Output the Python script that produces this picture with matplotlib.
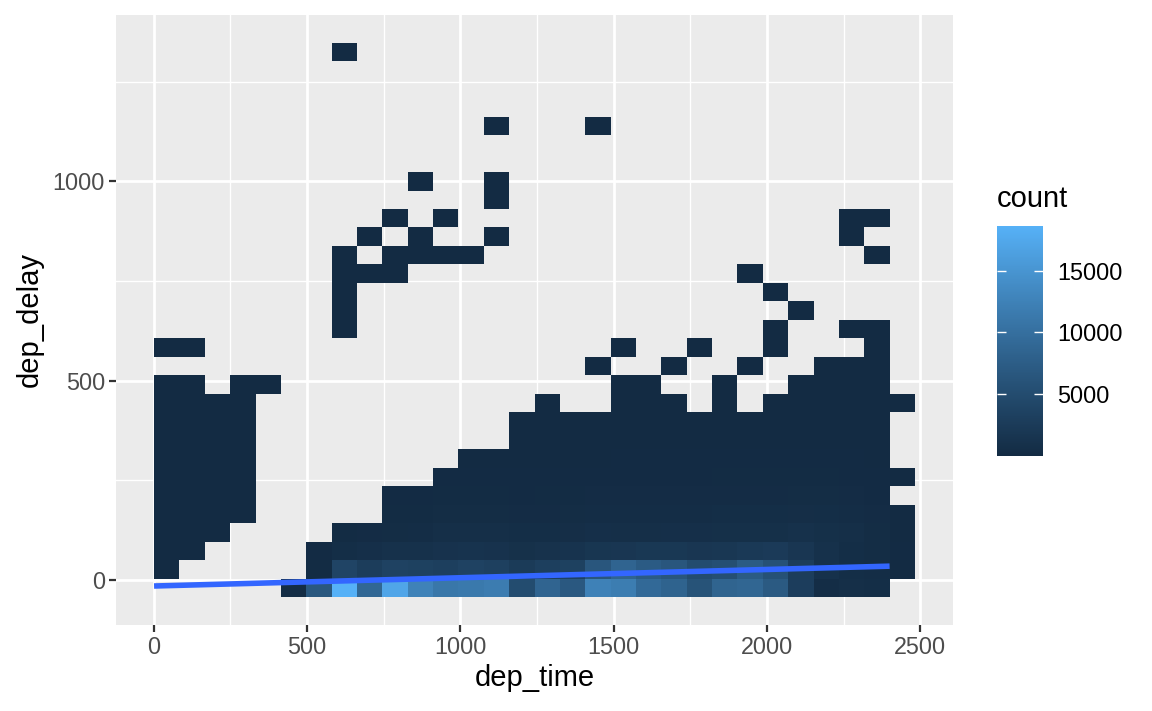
import numpy as np
import matplotlib
matplotlib.use("Agg")
import matplotlib.pyplot as plt
from matplotlib.colors import ListedColormap, Normalize

# ---------------- data ----------------
n_bins = 30
dep_time_range = (1, 2400)
dep_delay_range = (-43, 1301)

# counts of the five lowest dep_delay bins, one value per dep_time bin (0 = empty)
count_row0 = [0, 0, 0, 0, 0, 300, 6700, 18600, 8900, 17100, 12500, 11000, 11400, 11700, 5000,
              8500, 6800, 12400, 11800, 9200, 8300, 6000, 8400, 8700, 7000, 2900, 400, 600, 500, 0]
count_row1 = [40, 0, 0, 0, 0, 0, 150, 3900, 2800, 3600, 3400, 3100, 3600, 3200, 2500,
              3100, 3400, 6500, 8500, 7200, 6500, 5000, 5400, 7200, 5800, 2800, 1000, 500, 400, 60]
count_row2 = [35, 30, 0, 0, 0, 0, 100, 500, 700, 1000, 1000, 1200, 1300, 1200, 900,
              1100, 1300, 1700, 1800, 2000, 2000, 1800, 1900, 2200, 2400, 1800, 1000, 500, 300, 90]
count_row3 = [30, 25, 20, 0, 0, 0, 0, 200, 250, 300, 400, 600, 600, 600, 450,
              500, 550, 700, 650, 650, 700, 700, 750, 800, 800, 1000, 800, 600, 350, 60]
count_row4 = [25, 20, 18, 15, 0, 0, 0, 0, 0, 150, 200, 300, 320, 320, 250,
              280, 300, 380, 400, 400, 420, 420, 450, 450, 480, 550, 500, 380, 220, 30]

# remaining occupied bins (higher delays): dep_time bin, first dep_delay bin, counts upward
upper_col = [0, 0, 1, 1, 2, 3, 4, 7, 7, 8, 8, 9, 9, 9, 10, 10, 10, 11, 11, 11, 12, 12,
             13, 13, 13, 13, 14, 15, 16, 17, 17, 17, 18, 18, 19, 20, 20, 21, 21, 22, 23, 23, 23,
             24, 24, 24, 25, 25, 26, 27, 27, 27, 28, 28, 28, 29, 29]
upper_row = [5, 13, 5, 13, 5, 5, 11, 14, 29, 17, 19, 5, 17, 20, 5, 18, 22, 5, 18, 20, 5, 18,
             5, 19, 21, 25, 5, 5, 5, 5, 12, 25, 5, 13, 5, 5, 12, 5, 13, 5, 5, 12, 17,
             5, 13, 16, 5, 15, 5, 5, 14, 19, 5, 18, 20, 6, 10]
upper_counts = [
    [20, 16, 12, 10, 8, 6, 4], [2],
    [16, 12, 10, 8, 6, 4, 3], [1],
    [14, 10, 8, 6, 4, 2],
    [12, 9, 7, 5, 3, 2, 1],
    [1],
    [1, 1, 2, 1, 1], [1],
    [1], [1],
    [80], [1, 1], [1],
    [110], [1, 1], [1],
    [170, 90], [1], [1],
    [180, 100, 50], [1],
    [180, 100, 55], [1], [1, 1], [1],
    [140, 80, 45, 25, 12],
    [160, 90, 50, 28, 15, 6],
    [170, 95, 55, 30, 15],
    [220, 120, 70, 40, 20], [2], [1],
    [230, 130, 75, 45, 25, 12, 5], [1],
    [230, 130, 75, 45, 25, 12, 5],
    [240, 140, 80, 45, 25, 10], [2],
    [240, 140, 80, 45, 22], [1],
    [260, 150, 85, 50, 28, 14, 6],
    [260, 150, 85, 50, 25], [2], [1],
    [280, 160, 95, 55, 30, 12], [2, 1], [1],
    [320, 180, 100, 60, 35, 16, 7], [1],
    [300, 170, 100, 60, 35, 18, 8, 3],
    [220, 130, 75, 45, 25, 12, 6, 2], [1], [1, 1],
    [130, 80, 50, 30, 18, 10, 6, 3, 2, 1], [1], [1],
    [2], [1],
]

# fitted linear smooth (lm): dep_delay = intercept + slope * dep_time
smooth_intercept = -15.5
smooth_slope = 0.02076

x_ticks = [0, 500, 1000, 1500, 2000, 2500]
x_minor = [250, 750, 1250, 1750, 2250]
y_ticks = [0, 500, 1000]
y_minor = [250, 750, 1250]
legend_ticks = [5000, 10000, 15000]

# ---------------- grid ----------------
xw = (dep_time_range[1] - dep_time_range[0]) / (n_bins - 1)
yw = (dep_delay_range[1] - dep_delay_range[0]) / (n_bins - 1)
x_edges = dep_time_range[0] + xw * np.arange(n_bins + 1)
y_edges = dep_delay_range[0] + yw * np.arange(n_bins + 1)

counts = np.zeros((n_bins, n_bins))
for r, row in enumerate([count_row0, count_row1, count_row2, count_row3, count_row4]):
    counts[r, :] = row
for c, r0, vals in zip(upper_col, upper_row, upper_counts):
    for k, v in enumerate(vals):
        counts[r0 + k, c] = v
masked = np.ma.masked_where(counts == 0, counts)


# ---------------- colour scale (ggplot2 gradient in CIELAB) ----------------
def hex_to_rgb(h):
    return np.array([int(h[i:i + 2], 16) for i in (1, 3, 5)]) / 255.0


M = np.array([[0.4124564, 0.3575761, 0.1804375],
              [0.2126729, 0.7151522, 0.0721750],
              [0.0193339, 0.1191920, 0.9503041]])
WHITE = np.array([0.95047, 1.0, 1.08883])


def rgb_to_lab(rgb):
    lin = np.where(rgb <= 0.04045, rgb / 12.92, ((rgb + 0.055) / 1.055) ** 2.4)
    xyz = M @ lin / WHITE
    f = np.where(xyz > 0.008856, np.cbrt(xyz), 7.787 * xyz + 16 / 116)
    return np.array([116 * f[1] - 16, 500 * (f[0] - f[1]), 200 * (f[1] - f[2])])


def lab_to_rgb(lab):
    L, a, b = lab
    fy = (L + 16) / 116
    fx = fy + a / 500
    fz = fy - b / 200
    f = np.array([fx, fy, fz])
    xyz = np.where(f ** 3 > 0.008856, f ** 3, (f - 16 / 116) / 7.787) * WHITE
    lin = np.linalg.inv(M) @ xyz
    lin = np.clip(lin, 0, 1)
    rgb = np.where(lin <= 0.0031308, 12.92 * lin, 1.055 * lin ** (1 / 2.4) - 0.055)
    return np.clip(rgb, 0, 1)


lab_lo = rgb_to_lab(hex_to_rgb("#132B43"))
lab_hi = rgb_to_lab(hex_to_rgb("#56B1F7"))
cols = [lab_to_rgb(lab_lo + t * (lab_hi - lab_lo)) for t in np.linspace(0, 1, 256)]
cmap = ListedColormap(cols)
norm = Normalize(vmin=masked.min(), vmax=masked.max())

# ---------------- figure ----------------
plt.rcParams['font.family'] = ['Liberation Sans', 'DejaVu Sans']
W, H = 1152, 711
fig = plt.figure(figsize=(W / 100, H / 100), dpi=100)
ax = fig.add_axes([116 / W, (H - 624.7) / H, (953 - 116) / W, (624.7 - 15) / H])
ax.set_facecolor("#EBEBEB")
for s in ax.spines.values():
    s.set_visible(False)

mesh = ax.pcolormesh(x_edges, y_edges, masked, cmap=cmap, norm=norm, zorder=2,
                     edgecolors='face', linewidth=0.0, antialiased=False)

xs = np.array([dep_time_range[0], dep_time_range[1]])
ax.plot(xs, smooth_intercept + smooth_slope * xs, color="#3366FF", lw=4.0,
        solid_capstyle='butt', zorder=3)

ax.set_xticks(x_ticks)
ax.set_yticks(y_ticks)
ax.set_xticks(x_minor, minor=True)
ax.set_yticks(y_minor, minor=True)

xr = x_edges[-1] - x_edges[0]
yr = y_edges[-1] - y_edges[0]
ax.set_xlim(x_edges[0] - 0.05 * xr, x_edges[-1] + 0.05 * xr)
ax.set_ylim(y_edges[0] - 0.05 * yr, y_edges[-1] + 0.05 * yr)

ax.grid(which='major', color='white', lw=2.0, zorder=1)
ax.grid(which='minor', color='white', lw=1.0, zorder=1)
ax.set_axisbelow(True)
ax.tick_params(which='major', length=5, width=1.6, color='#333333', labelsize=16.8,
               labelcolor='#4D4D4D', pad=3)
ax.tick_params(which='minor', length=0)

ax.set_xlabel("dep_time", fontsize=21, labelpad=4)
ax.set_ylabel("dep_delay", fontsize=21, labelpad=6)

# colour bar
cax = fig.add_axes([997 / W, (H - 456) / H, 46 / W, 230 / H])
cb = fig.colorbar(mesh, cax=cax)
cb.outline.set_visible(False)
cb.set_ticks(legend_ticks)
cax.yaxis.set_ticks_position('both')
cax.tick_params(direction='in', length=6.5, width=1.0, colors='white', labelcolor='black',
                labelsize=16.8, pad=10, labelleft=False, labelright=True)
fig.text(997 / W, 1 - 199 / H, "count", fontsize=21, ha='left', va='center')

fig.savefig("out.png", dpi=100)
